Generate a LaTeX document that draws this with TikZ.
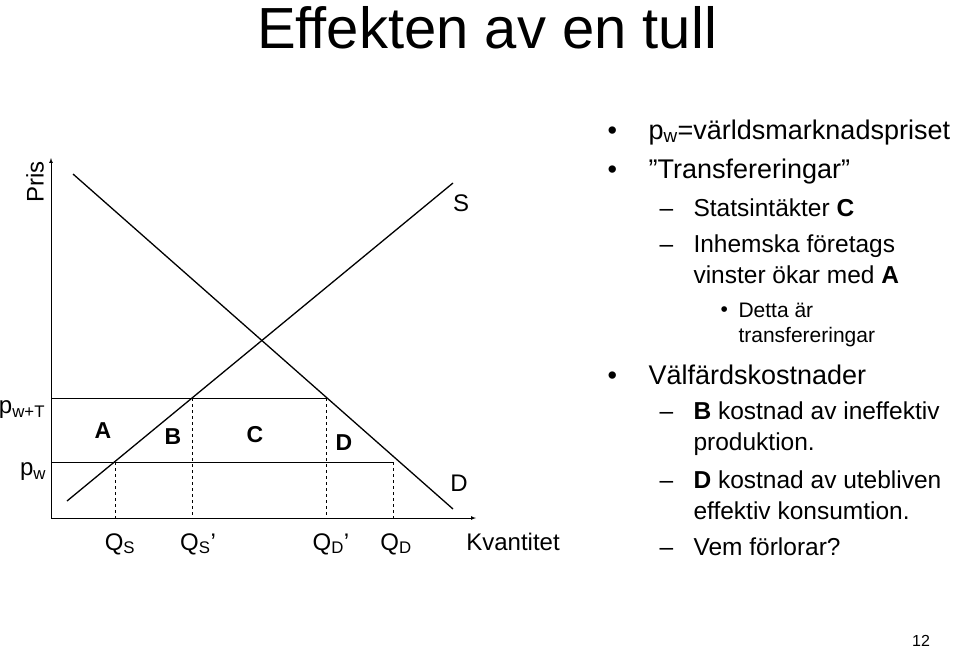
\documentclass[tikz,border=0pt]{standalone}
\usepackage{fontspec}
\setmainfont{Liberation Sans}
\begin{document}
\begin{tikzpicture}[x=1pt,y=-1pt,
  ln/.style={line width=1.3pt},
  thin/.style={line width=0.7pt},
  dsh/.style={line width=0.7pt,dashed},
  lab/.style={font=\fontsize{24}{26}\selectfont},
  area/.style={font=\bfseries\fontsize{23}{26}\selectfont},
  l1/.style={anchor=base west,font=\fontsize{27}{30}\selectfont},
  l2/.style={anchor=base west,font=\fontsize{24.5}{31}\selectfont,align=left},
  l3/.style={anchor=base west,font=\fontsize{21}{25}\selectfont,align=left}]
\useasboundingbox (0,0) rectangle (960,649);
\node[anchor=base] (title) at (487,48) {\fontsize{58}{63}\selectfont Effekten av en tull};
% axes
\coordinate (O) at (51,518);
\coordinate (Ytop) at (51,158);
\coordinate (Xend) at (476,518);
\draw[thin,-latex] (O) -- (Ytop);
\draw[thin,-latex] (O) -- (Xend);
\node[lab,rotate=90] (pris) at (35,182) {Pris};
\node[lab] (kv) at (513,542) {Kvantitet};
% curves
\coordinate (S1) at (67,501); \coordinate (S2) at (453,183);
\coordinate (D1) at (73,174); \coordinate (D2) at (453,509);
\draw[ln] (S1) -- (S2);
\draw[ln] (D1) -- (D2);
\node[lab] (Slab) at (461,203) {S};
\node[lab] (Dlab) at (459,483) {D};
% price lines
\coordinate (pT0) at (51,398); \coordinate (pT1) at (326,398);
\coordinate (pw0) at (51,462); \coordinate (pw1) at (393,462);
\draw[thin] (pT0) -- (pT1);
\draw[thin] (pw0) -- (pw1);
\foreach \x/\y in {115/462,192/398,326/398,393/462}{
  \draw[dsh] (\x,\y) -- (\x,518);}
\node[lab] (pwT) at (22,410) {p\textsubscript{w+T}};
\node[lab] (pw) at (33,472) {p\textsubscript{w}};
\node[lab] (qs) at (120,544) {Q\textsubscript{S}};
\node[lab] (qs2) at (198,544) {Q\textsubscript{S}’};
\node[lab] (qd2) at (331,544) {Q\textsubscript{D}’};
\node[lab] (qd) at (396,544) {Q\textsubscript{D}};
\node[area] (A) at (103,431) {A};
\node[area] (B) at (173,437) {B};
\node[area] (C) at (255,435) {C};
\node[area] (Dd) at (344,443) {D};
% right text
\node[l1] (b1) at (604,139) {•};
\node[l1] (t1) at (645,139) {p\textsubscript{w}=världsmarknadspriset};
\node[l1] (b2) at (604,178) {•};
\node[l1] (t2) at (645,178) {”Transfereringar”};
\node[l2] (d1) at (656,216) {–};
\node[l2] (t3) at (690,216) {Statsintäkter \textbf{C}};
\node[l2] (d2) at (656,252) {–};
\node[l2] (t4) at (690,283) {Inhemska företags\\vinster ökar med \textbf{A}};
\node[l3] (b3) at (717,316) {•};
\node[l3] (t5) at (735,342) {Detta är\\transfereringar};
\node[l1] (b4) at (604,384) {•};
\node[l1] (t6) at (645,384) {Välfärdskostnader};
\node[l2] (d3) at (656,419) {–};
\node[l2] (t7) at (690,450) {\textbf{B} kostnad av ineffektiv\\produktion.};
\node[l2] (d4) at (656,488) {–};
\node[l2] (t8) at (690,519) {\textbf{D} kostnad av utebliven\\effektiv konsumtion.};
\node[l2] (d5) at (656,555) {–};
\node[l2] (t9) at (690,555) {Vem förlorar?};
\node[anchor=base] (pg) at (921,646) {\fontsize{16}{18}\selectfont 12};
\end{tikzpicture}
\end{document}
